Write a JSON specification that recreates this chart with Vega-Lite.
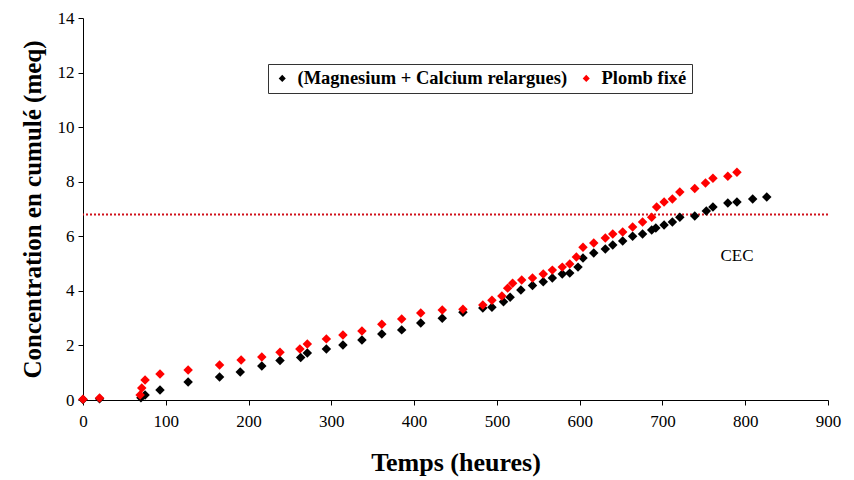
{
  "$schema": "https://vega.github.io/schema/vega-lite/v6.json",
  "width": 745,
  "height": 382,
  "autosize": "none",
  "padding": {"left": 83, "top": 18, "right": 26, "bottom": 80},
  "background": "white",
  "config": {
    "font": "Liberation Serif",
    "view": {"stroke": null},
    "axis": {"grid": false, "domainColor": "#000", "tickColor": "#000", "labelColor": "#000", "titleColor": "#000", "labelFont": "Liberation Serif", "titleFont": "Liberation Serif", "labelFontSize": 17, "titleFontSize": 25, "titleFontWeight": "bold", "tickSize": 5, "domainWidth": 1, "tickWidth": 1},
    "legend": {"labelFont": "Liberation Serif"}
  },
  "datasets": {
    "pts": [
      {"t": 0, "c": 0.02, "s": "(Magnesium + Calcium relargues)"},
      {"t": 20, "c": 0.05, "s": "(Magnesium + Calcium relargues)"},
      {"t": 70, "c": 0.08, "s": "(Magnesium + Calcium relargues)"},
      {"t": 75, "c": 0.18, "s": "(Magnesium + Calcium relargues)"},
      {"t": 93, "c": 0.37, "s": "(Magnesium + Calcium relargues)"},
      {"t": 127, "c": 0.66, "s": "(Magnesium + Calcium relargues)"},
      {"t": 165, "c": 0.84, "s": "(Magnesium + Calcium relargues)"},
      {"t": 190, "c": 1.03, "s": "(Magnesium + Calcium relargues)"},
      {"t": 216, "c": 1.25, "s": "(Magnesium + Calcium relargues)"},
      {"t": 238, "c": 1.45, "s": "(Magnesium + Calcium relargues)"},
      {"t": 263, "c": 1.56, "s": "(Magnesium + Calcium relargues)"},
      {"t": 271, "c": 1.72, "s": "(Magnesium + Calcium relargues)"},
      {"t": 294, "c": 1.87, "s": "(Magnesium + Calcium relargues)"},
      {"t": 314, "c": 2.02, "s": "(Magnesium + Calcium relargues)"},
      {"t": 337, "c": 2.2, "s": "(Magnesium + Calcium relargues)"},
      {"t": 361, "c": 2.42, "s": "(Magnesium + Calcium relargues)"},
      {"t": 385, "c": 2.57, "s": "(Magnesium + Calcium relargues)"},
      {"t": 408, "c": 2.82, "s": "(Magnesium + Calcium relargues)"},
      {"t": 434, "c": 3.0, "s": "(Magnesium + Calcium relargues)"},
      {"t": 459, "c": 3.22, "s": "(Magnesium + Calcium relargues)"},
      {"t": 483, "c": 3.37, "s": "(Magnesium + Calcium relargues)"},
      {"t": 494, "c": 3.4, "s": "(Magnesium + Calcium relargues)"},
      {"t": 508, "c": 3.6, "s": "(Magnesium + Calcium relargues)"},
      {"t": 516, "c": 3.77, "s": "(Magnesium + Calcium relargues)"},
      {"t": 529, "c": 4.03, "s": "(Magnesium + Calcium relargues)"},
      {"t": 543, "c": 4.2, "s": "(Magnesium + Calcium relargues)"},
      {"t": 556, "c": 4.33, "s": "(Magnesium + Calcium relargues)"},
      {"t": 567, "c": 4.47, "s": "(Magnesium + Calcium relargues)"},
      {"t": 579, "c": 4.62, "s": "(Magnesium + Calcium relargues)"},
      {"t": 588, "c": 4.65, "s": "(Magnesium + Calcium relargues)"},
      {"t": 598, "c": 4.87, "s": "(Magnesium + Calcium relargues)"},
      {"t": 604, "c": 5.2, "s": "(Magnesium + Calcium relargues)"},
      {"t": 617, "c": 5.39, "s": "(Magnesium + Calcium relargues)"},
      {"t": 631, "c": 5.53, "s": "(Magnesium + Calcium relargues)"},
      {"t": 640, "c": 5.68, "s": "(Magnesium + Calcium relargues)"},
      {"t": 652, "c": 5.83, "s": "(Magnesium + Calcium relargues)"},
      {"t": 664, "c": 6.0, "s": "(Magnesium + Calcium relargues)"},
      {"t": 676, "c": 6.08, "s": "(Magnesium + Calcium relargues)"},
      {"t": 687, "c": 6.23, "s": "(Magnesium + Calcium relargues)"},
      {"t": 692, "c": 6.3, "s": "(Magnesium + Calcium relargues)"},
      {"t": 702, "c": 6.41, "s": "(Magnesium + Calcium relargues)"},
      {"t": 712, "c": 6.52, "s": "(Magnesium + Calcium relargues)"},
      {"t": 721, "c": 6.7, "s": "(Magnesium + Calcium relargues)"},
      {"t": 739, "c": 6.74, "s": "(Magnesium + Calcium relargues)"},
      {"t": 753, "c": 6.93, "s": "(Magnesium + Calcium relargues)"},
      {"t": 761, "c": 7.07, "s": "(Magnesium + Calcium relargues)"},
      {"t": 779, "c": 7.22, "s": "(Magnesium + Calcium relargues)"},
      {"t": 790, "c": 7.26, "s": "(Magnesium + Calcium relargues)"},
      {"t": 809, "c": 7.37, "s": "(Magnesium + Calcium relargues)"},
      {"t": 826, "c": 7.44, "s": "(Magnesium + Calcium relargues)"},
      {"t": 0, "c": 0.03, "s": "Plomb fixé"},
      {"t": 20, "c": 0.07, "s": "Plomb fixé"},
      {"t": 69, "c": 0.18, "s": "Plomb fixé"},
      {"t": 71, "c": 0.44, "s": "Plomb fixé"},
      {"t": 75, "c": 0.73, "s": "Plomb fixé"},
      {"t": 93, "c": 0.95, "s": "Plomb fixé"},
      {"t": 127, "c": 1.1, "s": "Plomb fixé"},
      {"t": 165, "c": 1.28, "s": "Plomb fixé"},
      {"t": 191, "c": 1.47, "s": "Plomb fixé"},
      {"t": 216, "c": 1.58, "s": "Plomb fixé"},
      {"t": 238, "c": 1.75, "s": "Plomb fixé"},
      {"t": 262, "c": 1.87, "s": "Plomb fixé"},
      {"t": 271, "c": 2.05, "s": "Plomb fixé"},
      {"t": 294, "c": 2.24, "s": "Plomb fixé"},
      {"t": 314, "c": 2.38, "s": "Plomb fixé"},
      {"t": 337, "c": 2.53, "s": "Plomb fixé"},
      {"t": 361, "c": 2.78, "s": "Plomb fixé"},
      {"t": 385, "c": 2.97, "s": "Plomb fixé"},
      {"t": 408, "c": 3.19, "s": "Plomb fixé"},
      {"t": 434, "c": 3.3, "s": "Plomb fixé"},
      {"t": 459, "c": 3.33, "s": "Plomb fixé"},
      {"t": 483, "c": 3.48, "s": "Plomb fixé"},
      {"t": 494, "c": 3.66, "s": "Plomb fixé"},
      {"t": 506, "c": 3.81, "s": "Plomb fixé"},
      {"t": 513, "c": 4.1, "s": "Plomb fixé"},
      {"t": 519, "c": 4.28, "s": "Plomb fixé"},
      {"t": 530, "c": 4.4, "s": "Plomb fixé"},
      {"t": 543, "c": 4.47, "s": "Plomb fixé"},
      {"t": 556, "c": 4.62, "s": "Plomb fixé"},
      {"t": 567, "c": 4.76, "s": "Plomb fixé"},
      {"t": 579, "c": 4.87, "s": "Plomb fixé"},
      {"t": 588, "c": 4.98, "s": "Plomb fixé"},
      {"t": 596, "c": 5.24, "s": "Plomb fixé"},
      {"t": 604, "c": 5.6, "s": "Plomb fixé"},
      {"t": 617, "c": 5.75, "s": "Plomb fixé"},
      {"t": 631, "c": 5.94, "s": "Plomb fixé"},
      {"t": 640, "c": 6.08, "s": "Plomb fixé"},
      {"t": 652, "c": 6.16, "s": "Plomb fixé"},
      {"t": 664, "c": 6.34, "s": "Plomb fixé"},
      {"t": 676, "c": 6.52, "s": "Plomb fixé"},
      {"t": 687, "c": 6.7, "s": "Plomb fixé"},
      {"t": 693, "c": 7.07, "s": "Plomb fixé"},
      {"t": 702, "c": 7.26, "s": "Plomb fixé"},
      {"t": 712, "c": 7.37, "s": "Plomb fixé"},
      {"t": 721, "c": 7.62, "s": "Plomb fixé"},
      {"t": 739, "c": 7.75, "s": "Plomb fixé"},
      {"t": 752, "c": 7.95, "s": "Plomb fixé"},
      {"t": 761, "c": 8.13, "s": "Plomb fixé"},
      {"t": 779, "c": 8.2, "s": "Plomb fixé"},
      {"t": 790, "c": 8.35, "s": "Plomb fixé"}
    ],
    "cec": [{"c": 6.8, "t": 790, "ty": 5.28, "label": "CEC"}]
  },
  "layer": [
    {
      "data": {"name": "cec"},
      "mark": {"type": "rule", "color": "#d0101a", "strokeWidth": 2, "strokeDash": [2, 2]},
      "encoding": {
        "y": {"field": "c", "type": "quantitative", "scale": {"domain": [0, 14]}}
      }
    },
    {
      "data": {"name": "pts"},
      "mark": {"type": "point", "shape": "diamond", "filled": true, "opacity": 1, "size": 90},
      "encoding": {
        "x": {"field": "t", "type": "quantitative", "scale": {"domain": [0, 900], "nice": false}, "axis": {"values": [0, 100, 200, 300, 400, 500, 600, 700, 800, 900], "title": "Temps (heures)", "titlePadding": 20, "titleFontSize": 26, "labelPadding": 8, "labelFont": "Liberation Serif", "labelFontSize": 17, "labelFlush": false}},
        "y": {"field": "c", "type": "quantitative", "scale": {"domain": [0, 14], "nice": false}, "axis": {"values": [0, 2, 4, 6, 8, 10, 12, 14], "title": "Concentration en cumulé (meq)", "titlePadding": 12, "labelPadding": 4, "labelFont": "Liberation Serif", "labelFontSize": 17, "labelFlush": false}},
        "color": {
          "field": "s", "type": "nominal",
          "scale": {"domain": ["(Magnesium + Calcium relargues)", "Plomb fixé"], "range": ["#000000", "#ff0000"]},
          "legend": {"title": null, "orient": "none", "legendX": 185, "legendY": 46, "direction": "horizontal", "strokeColor": "#333", "padding": 5, "labelFontSize": 18.5, "labelFontWeight": "bold", "labelColor": "#000", "labelLimit": 0, "symbolType": "diamond", "symbolSize": 50, "symbolStrokeWidth": 0, "columnPadding": 9, "labelOffset": 6, "fillColor": "white"}
        }
      }
    },
    {
      "data": {"name": "cec"},
      "mark": {"type": "text", "fontSize": 17, "color": "#000", "font": "Liberation Serif"},
      "encoding": {
        "x": {"field": "t", "type": "quantitative"},
        "y": {"field": "ty", "type": "quantitative"},
        "text": {"field": "label"}
      }
    }
  ]
}
